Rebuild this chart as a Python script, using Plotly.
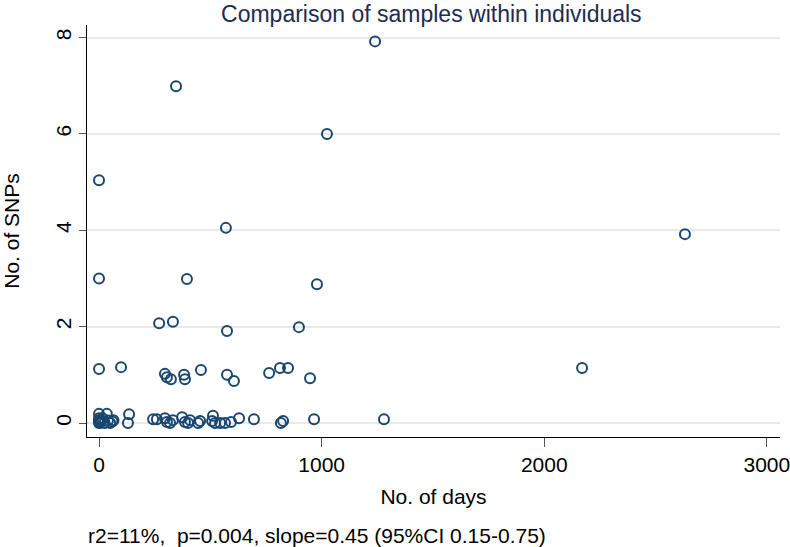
import plotly.graph_objects as go

# Data (days between samples, number of SNPs)
days = [1240, 346, 1024, 0, 570, 2632, 0, 395, 979, 270, 332, 575, 898,
        0, 99, 296, 305, 323, 382, 386, 458, 575, 606, 764, 813, 849, 948, 2170,
        0, 0, 0, 0, 0, 5, 10, 15, 25, 35, 40, 50, 60, 65,
        135, 130, 243, 260, 296, 305, 319, 332, 373, 386, 400, 409, 445, 454,
        508, 512, 521, 544, 566, 593, 629, 696, 817, 827, 966, 1280]
snps = [7.92, 6.99, 6.0, 5.04, 4.05, 3.92, 3.0, 2.99, 2.88, 2.07, 2.1, 1.91, 1.99,
        1.12, 1.16, 1.02, 0.95, 0.91, 1.0, 0.91, 1.10, 1.0, 0.87, 1.04, 1.14, 1.14, 0.93, 1.14,
        0.0, 0.03, 0.06, 0.1, 0.19, 0.0, 0.04, 0.1, 0.0, 0.19, 0.05, 0.0, 0.03, 0.06,
        0.18, 0.0, 0.08, 0.08, 0.1, 0.02, 0.0, 0.06, 0.12, 0.02, 0.0, 0.06, 0.0, 0.04,
        0.04, 0.15, 0.0, 0.0, 0.0, 0.02, 0.1, 0.08, 0.0, 0.04, 0.08, 0.08]

x_ticks = [0, 1000, 2000, 3000]
y_ticks = [0, 2, 4, 6, 8]

title_text = "Comparison of samples within individuals"
x_title = "No. of days"
y_title = "No. of SNPs"
note_text = "r2=11%,  p=0.004, slope=0.45 (95%CI 0.15-0.75)"

FONT = "Liberation Sans, Arial, sans-serif"
NAVY = "#1a476f"

fig = go.Figure()
fig.add_trace(go.Scatter(
    x=days, y=snps, mode="markers",
    marker=dict(symbol="circle-open", size=10, color=NAVY, line=dict(width=2, color=NAVY)),
    showlegend=False, hoverinfo="x+y",
))

fig.update_layout(
    width=790, height=547, autosize=False,
    margin=dict(l=87, r=10, t=25, b=110, pad=0),
    paper_bgcolor="white", plot_bgcolor="white",
    font=dict(family=FONT, size=20, color="#000000"),
    title=dict(text=title_text, x=0.546, xanchor="center", y=0.975, yanchor="middle",
               font=dict(family=FONT, size=23, color="#1e2c4f")),
    xaxis=dict(
        range=[-54, 3059], tickmode="array", tickvals=x_ticks,
        ticks="outside", ticklen=9, tickwidth=1, tickcolor="#555555",
        showline=True, linecolor="#000000", linewidth=1,
        showgrid=False, zeroline=False, automargin=False,
        ticklabeloverflow="allow",
        tickfont=dict(family=FONT, size=21),
        title=dict(text=x_title, font=dict(family=FONT, size=21), standoff=14),
    ),
    yaxis=dict(
        range=[-0.29, 8.26], tickmode="array", tickvals=y_ticks,
        ticks="outside", ticklen=7, tickwidth=1, tickcolor="#555555",
        tickangle=-90,
        showline=True, linecolor="#000000", linewidth=1,
        showgrid=True, gridcolor="#e5eaeb", gridwidth=2, zeroline=False,
        automargin=False, ticklabeloverflow="allow",
        tickfont=dict(family=FONT, size=21),
        title=dict(text=y_title, font=dict(family=FONT, size=21), standoff=30),
    ),
    annotations=[dict(
        text=note_text, xref="paper", yref="paper", x=-0.002, y=-0.238,
        xanchor="left", yanchor="middle", showarrow=False,
        font=dict(family=FONT, size=21, color="#000000"),
    )],
)

fig.write_html("out.html", config={"displayModeBar": False},
               post_script="document.body.style.margin='0px';")
